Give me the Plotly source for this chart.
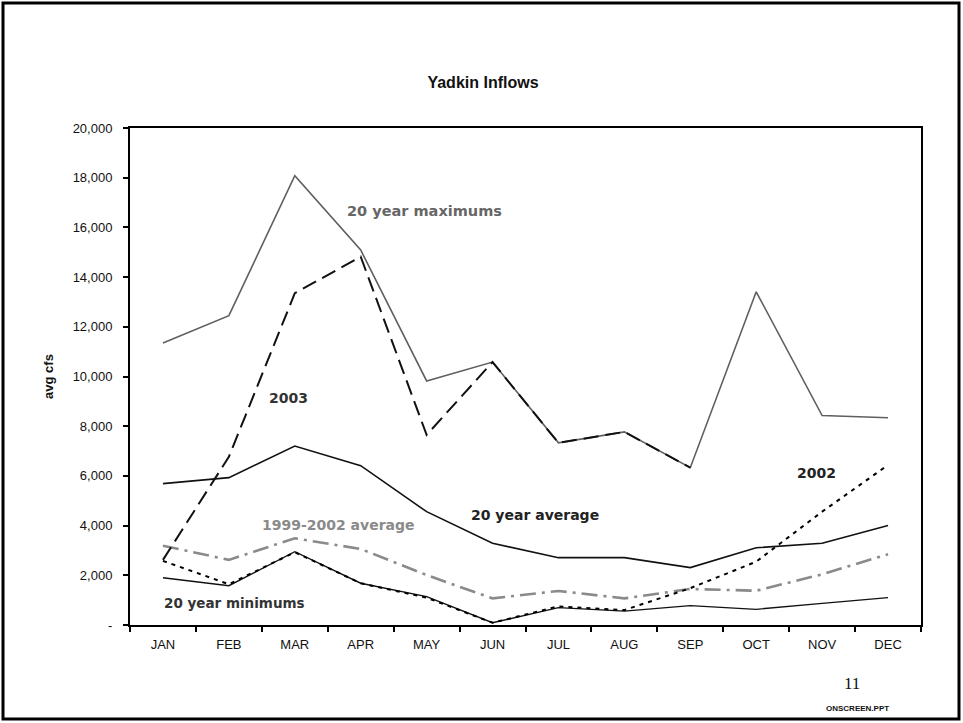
import plotly.graph_objects as go

months = ["JAN", "FEB", "MAR", "APR", "MAY", "JUN", "JUL", "AUG", "SEP", "OCT", "NOV", "DEC"]

max_20yr = [11350, 12450, 18080, 15090, 9820, 10580, 7330, 7770, 6330, 13410, 8430, 8340]
avg_20yr = [5690, 5930, 7200, 6410, 4560, 3290, 2710, 2710, 2310, 3110, 3290, 4000]
min_20yr = [1900, 1580, 2950, 1680, 1140, 90, 700, 560, 780, 630, 870, 1100]
avg_1999_2002 = [3190, 2620, 3490, 3060, 2010, 1070, 1370, 1070, 1450, 1380, 2040, 2850]
flow_2002 = [2580, 1640, 2930, 1680, 1100, 90, 750, 600, 1480, 2550, 4560, 6440]
flow_2003 = [2620, 6770, 13350, 14820, 7650, 10580, 7330, 7770, 6330, None, None, None]

y_ticks = list(range(0, 20001, 2000))
y_tick_text = ["-"] + [f"{v:,}" for v in y_ticks[1:]]

W, H = 963, 723
ML, MR, MT, MB = 130, 42, 128, 98

fig = go.Figure()

def add_line(values, color, width, dash):
    fig.add_trace(go.Scatter(
        x=months, y=values, mode="lines",
        line=dict(color=color, width=width, dash=dash),
        connectgaps=False, hoverinfo="skip", showlegend=False,
    ))

add_line(max_20yr, "#5f5f5f", 1.6, "solid")
add_line(avg_20yr, "#111111", 1.6, "solid")
add_line(min_20yr, "#111111", 1.4, "solid")
add_line(avg_1999_2002, "#8a8a8a", 2.6, "16px,6px,3px,6px")
add_line(flow_2002, "#000000", 2.0, "4px,5px")
add_line(flow_2003, "#111111", 2.0, "15px,7px")

# series labels placed next to their lines
label_font = "DejaVu Sans"
labels = [
    ("20 year maximums", 3.97, 16660, "#666666", 14.5),
    ("2003", 1.91, 9130, "#333333", 14),
    ("1999-2002 average", 2.66, 4020, "#8a8a8a", 14),
    ("20 year minimums", 1.08, 890, "#333333", 13.5),
    ("20 year average", 5.65, 4430, "#222222", 14),
    ("2002", 9.92, 6120, "#222222", 14),
]
for text, xpos, ypos, color, size in labels:
    fig.add_annotation(
        x=xpos, y=ypos, xref="x", yref="y", text=text, showarrow=False,
        font=dict(family=label_font, size=size, color=color, weight="bold"),
        xanchor="center", yanchor="middle",
    )

plot_w = W - ML - MR
plot_h = H - MT - MB

def px_x(p):
    return (p - ML) / plot_w

def px_y(p):
    return (H - MB - p) / plot_h

# outer page frame
fig.add_shape(
    type="rect", xref="paper", yref="paper",
    x0=px_x(3), x1=px_x(959), y0=px_y(719), y1=px_y(3),
    line=dict(color="black", width=3), fillcolor="rgba(0,0,0,0)", layer="above",
)

fig.add_annotation(
    xref="paper", yref="paper", x=px_x(852), y=px_y(683), text="11",
    showarrow=False, font=dict(family="Liberation Serif", size=17, color="#111111"),
    xanchor="center", yanchor="middle",
)
fig.add_annotation(
    xref="paper", yref="paper", x=px_x(857), y=px_y(708), text="ONSCREEN.PPT",
    showarrow=False, font=dict(family="Liberation Sans", size=8, color="#111111", weight="bold"),
    xanchor="center", yanchor="middle",
)

fig.update_layout(
    width=W, height=H,
    margin=dict(l=ML, r=MR, t=MT, b=MB, pad=0),
    paper_bgcolor="white", plot_bgcolor="white",
    title=dict(
        text="Yadkin Inflows", x=483 / W, xanchor="center", y=1 - 82 / H, yanchor="middle",
        font=dict(family="Liberation Sans", size=16, color="#111111", weight="bold"),
    ),
    font=dict(family="Liberation Sans", size=12, color="#111111"),
)

fig.update_xaxes(
    type="category", categoryorder="array", categoryarray=months,
    range=[-0.5, 11.5], tickson="boundaries",
    showline=True, linecolor="black", linewidth=2, mirror=True,
    ticks="outside", ticklen=5, tickwidth=2, tickcolor="black",
    showgrid=False, zeroline=False,
    tickfont=dict(family="Liberation Sans", size=13, color="#111111"),
    ticklabelstandoff=6,
)
fig.update_yaxes(
    range=[0, 20000], tickvals=y_ticks, ticktext=y_tick_text,
    showline=True, linecolor="black", linewidth=2, mirror=True,
    ticks="outside", ticklen=5, tickwidth=2, tickcolor="black",
    showgrid=False, zeroline=False,
    tickfont=dict(family="Liberation Sans", size=13, color="#111111"),
    ticklabelstandoff=8,
    title=dict(text="avg cfs", standoff=16,
               font=dict(family="Liberation Sans", size=13, color="#111111", weight="bold")),
)

fig.write_html("out.html")
